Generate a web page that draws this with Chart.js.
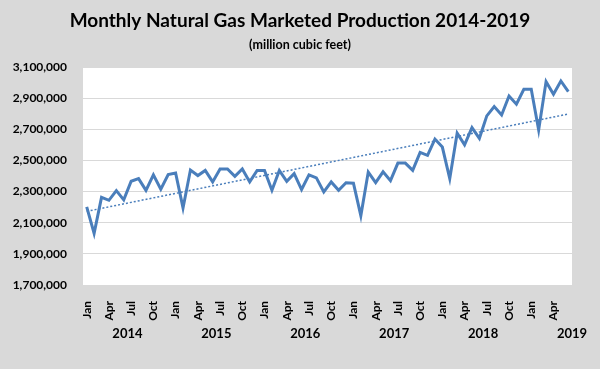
<!DOCTYPE html>
<html>
<head>
<meta charset="utf-8">
<script src="https://cdn.jsdelivr.net/npm/chart.js@4"></script>
<style>
  html, body { margin: 0; padding: 0; background: #d9d9d9; }
  #wrap { width: 600px; height: 369px; }
</style>
</head>
<body>
<div id="wrap"><canvas id="gasChart"></canvas></div>
<script>
// data (million cubic feet)
const monthNames = ['Jan','Feb','Mar','Apr','May','Jun','Jul','Aug','Sep','Oct','Nov','Dec'];
const years = [2014, 2015, 2016, 2017, 2018, 2019];

const production2014 = [2202000, 2032000, 2263000, 2244000, 2306000, 2247000, 2366000, 2383000, 2308000, 2407000, 2315000, 2409000];
const production2015 = [2419000, 2195000, 2438000, 2403000, 2436000, 2362000, 2445000, 2445000, 2398000, 2445000, 2362000, 2435000];
const production2016 = [2435000, 2308000, 2436000, 2366000, 2415000, 2313000, 2407000, 2388000, 2298000, 2362000, 2308000, 2357000];
const production2017 = [2354000, 2145000, 2425000, 2357000, 2427000, 2370000, 2483000, 2483000, 2436000, 2552000, 2533000, 2637000];
const production2018 = [2586000, 2383000, 2675000, 2600000, 2711000, 2642000, 2786000, 2846000, 2792000, 2914000, 2861000, 2957000];
const production2019 = [2957000, 2696000, 3006000, 2925000, 3010000, 2942000];

// dotted trend line ends, as drawn
const trendStart = 2173000;
const trendEnd = 2798000;

const titleText = 'Monthly Natural Gas Marketed Production 2014-2019';
const subtitleText = '(million cubic feet)';

const production = [].concat(production2014, production2015, production2016,
                             production2017, production2018, production2019);

const labels = [];
years.forEach(y => monthNames.forEach(m => labels.push(m + ' ' + y)));
labels.length = production.length;

const FONT = 'Lato, "Open Sans", sans-serif';

// white plot area, titles and year labels under the months
const decor = {
  id: 'decor',
  beforeDraw(chart) {
    const { ctx, chartArea: a } = chart;
    ctx.save();
    ctx.fillStyle = '#ffffff';
    ctx.fillRect(a.left, a.top, a.right - a.left, a.bottom - a.top);
    ctx.restore();
  },
  afterDraw(chart) {
    const { ctx } = chart;
    const x = chart.scales.x;
    const step = x.getPixelForValue(1) - x.getPixelForValue(0);
    ctx.save();
    ctx.fillStyle = '#000';
    ctx.textAlign = 'center';
    ctx.textBaseline = 'middle';

    ctx.font = 'bold 19px ' + FONT;
    ctx.fillText(titleText, 300, 21);
    ctx.font = 'bold 12.5px ' + FONT;
    ctx.fillText(subtitleText, 300, 45);

    ctx.font = 'bold 13px ' + FONT;
    years.forEach((y, i) => {
      const px = x.getPixelForValue(0) + step * (i * 12 + 5.5);
      ctx.fillText(String(y), px, 334);
    });
    ctx.restore();
  }
};

new Chart(document.getElementById('gasChart'), {
  type: 'line',
  data: {
    labels: labels,
    datasets: [{
      label: 'Production',
      data: production,
      borderColor: '#4a7ebb',
      borderWidth: 3,
      pointRadius: 0,
      tension: 0,
      fill: false
    }, {
      label: 'Trend',
      data: [{ x: labels[0], y: trendStart }, { x: labels[labels.length - 1], y: trendEnd }],
      borderColor: '#4a7ebb',
      borderWidth: 1.5,
      borderDash: [2, 2],
      pointRadius: 0,
      fill: false
    }]
  },
  options: {
    responsive: true,
    maintainAspectRatio: false,
    animation: false,
    layout: { padding: { top: 67, right: 28, bottom: 0, left: 0 } },
    plugins: {
      legend: { display: false },
      tooltip: { enabled: false },
      title: { display: false }
    },
    scales: {
      x: {
        offset: true,
        grid: { display: false },
        border: { display: false },
        ticks: {
          autoSkip: false,
          maxRotation: 90,
          minRotation: 90,
          padding: 8,
          color: '#000',
          font: { family: FONT, size: 12, weight: 'bold' },
          callback: function (value, index) {
            return index % 3 === 0 ? labels[index].split(' ')[0] : '';
          }
        },
        afterFit(scale) { scale.height = 84; }
      },
      y: {
        min: 1700000,
        max: 3100000,
        grid: { color: '#d9d9d9', lineWidth: 1, drawTicks: false },
        border: { display: false },
        ticks: {
          stepSize: 200000,
          padding: 16,
          color: '#000',
          font: { family: FONT, size: 12, weight: 'bold' },
          callback: v => v.toLocaleString('en-US')
        },
        afterFit(scale) { scale.width = 83; }
      }
    }
  },
  plugins: [decor]
});
</script>
</body>
</html>
